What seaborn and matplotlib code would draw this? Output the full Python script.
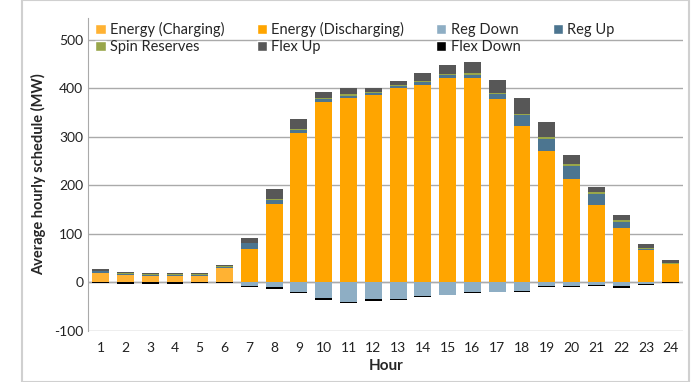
import numpy as np
import pandas as pd
import matplotlib
matplotlib.use("Agg")
import matplotlib.pyplot as plt
from matplotlib.patches import Patch, Rectangle
import seaborn as sns

# Hourly schedule values (MW)
hours = list(range(1, 25))
energy_charging = [20, 16, 14, 13, 13, 30, 0, 0, 0, 0, 0, 0, 0, 0, 0, 0, 0, 0, 0, 0, 0, 0, 0, 0]
energy_discharging = [0, 0, 0, 0, 0, 0, 68, 162, 307, 372, 380, 386, 400, 407, 422, 422, 378, 322, 270, 213, 160, 112, 67, 37]
reg_up = [3, 2, 2, 3, 3, 2, 13, 8, 6, 5, 5, 4, 4, 5, 5, 6, 10, 22, 26, 26, 22, 12, 2, 1]
spin_reserves = [1, 1, 1, 1, 1, 1, 1, 2, 3, 3, 3, 3, 3, 3, 3, 3, 3, 3, 4, 4, 4, 4, 2, 1]
flex_up = [4, 3, 3, 3, 3, 2, 10, 20, 20, 12, 12, 8, 9, 17, 18, 23, 27, 33, 30, 20, 11, 10, 8, 6]
reg_down = [0, 0, 0, 0, 0, 0, -7, -10, -20, -33, -40, -35, -34, -28, -26, -20, -19, -17, -7, -8, -6, -8, -4, 0]
flex_down = [-2, -3, -3, -3, -2, -1, -3, -3, -3, -3, -3, -3, -2, -2, -1, -2, -2, -2, -2, -2, -2, -3, -1, -2]

df = pd.DataFrame({
    "hour": hours,
    "Energy (Charging)": energy_charging,
    "Energy (Discharging)": energy_discharging,
    "Reg Up": reg_up,
    "Spin Reserves": spin_reserves,
    "Flex Up": flex_up,
    "Reg Down": reg_down,
    "Flex Down": flex_down,
})

colors = {
    "Energy (Charging)": "#FFB233",
    "Energy (Discharging)": "#FFA500",
    "Reg Down": "#8EAEC4",
    "Reg Up": "#4C7590",
    "Spin Reserves": "#98A64A",
    "Flex Up": "#575757",
    "Flex Down": "#000000",
}

sns.set_style("white")
plt.rcParams["font.family"] = ["Lato", "DejaVu Sans"]
plt.rcParams["axes.unicode_minus"] = False

fig = plt.figure(figsize=(7, 3.82), dpi=100)
ax = fig.add_axes([0.126, 0.134, 0.85, 0.819])

# stacked bars drawn as overlapping cumulative layers
pos_order = ["Energy (Charging)", "Energy (Discharging)", "Reg Up", "Spin Reserves", "Flex Up"]
cum = df[pos_order].cumsum(axis=1)
for col in reversed(pos_order):
    sns.barplot(x=df["hour"], y=cum[col], color=colors[col], width=0.68,
                saturation=1, linewidth=0, edgecolor="none", ax=ax, zorder=3)

neg_order = ["Reg Down", "Flex Down"]
ncum = df[neg_order].cumsum(axis=1)
for col in reversed(neg_order):
    sns.barplot(x=df["hour"], y=ncum[col], color=colors[col], width=0.68,
                saturation=1, linewidth=0, edgecolor="none", ax=ax, zorder=3)

ax.set_ylim(-100, 545)
ax.set_yticks(range(-100, 501, 100))
ax.yaxis.grid(True, color="#AAAAAA", linewidth=1, zorder=0)
ax.set_axisbelow(True)
ax.axhline(0, color="#AAAAAA", linewidth=1, zorder=1)
for s in ["top", "right", "bottom"]:
    ax.spines[s].set_visible(False)
ax.spines["left"].set_color("#AAAAAA")
ax.tick_params(axis="both", length=0, labelsize=10, colors="#222222")
ax.tick_params(axis="x", pad=8)
ax.set_xlabel("Hour", fontsize=11, fontweight="bold", labelpad=4)
ax.set_ylabel("Average hourly schedule (MW)", fontsize=10.5, fontweight="bold", labelpad=6)

labels = ["Energy (Charging)", "Spin Reserves", "Energy (Discharging)", "Flex Up",
          "Reg Down", "Flex Down", "Reg Up"]
handles = [Patch(facecolor=colors[l], label=l) for l in labels]
ax.legend(handles=handles, ncol=4, loc="upper left", bbox_to_anchor=(-0.01, 1.03),
          frameon=False, fontsize=10.5, handlelength=0.7, handleheight=0.7,
          handletextpad=0.3, columnspacing=2.2, labelspacing=0.25)

fig.patches.append(Rectangle((0.032, 0.0), 0.952, 0.999, transform=fig.transFigure,
                             fill=False, edgecolor="#D0D0D0", linewidth=1.5))

fig.savefig("out.png", dpi=100)
